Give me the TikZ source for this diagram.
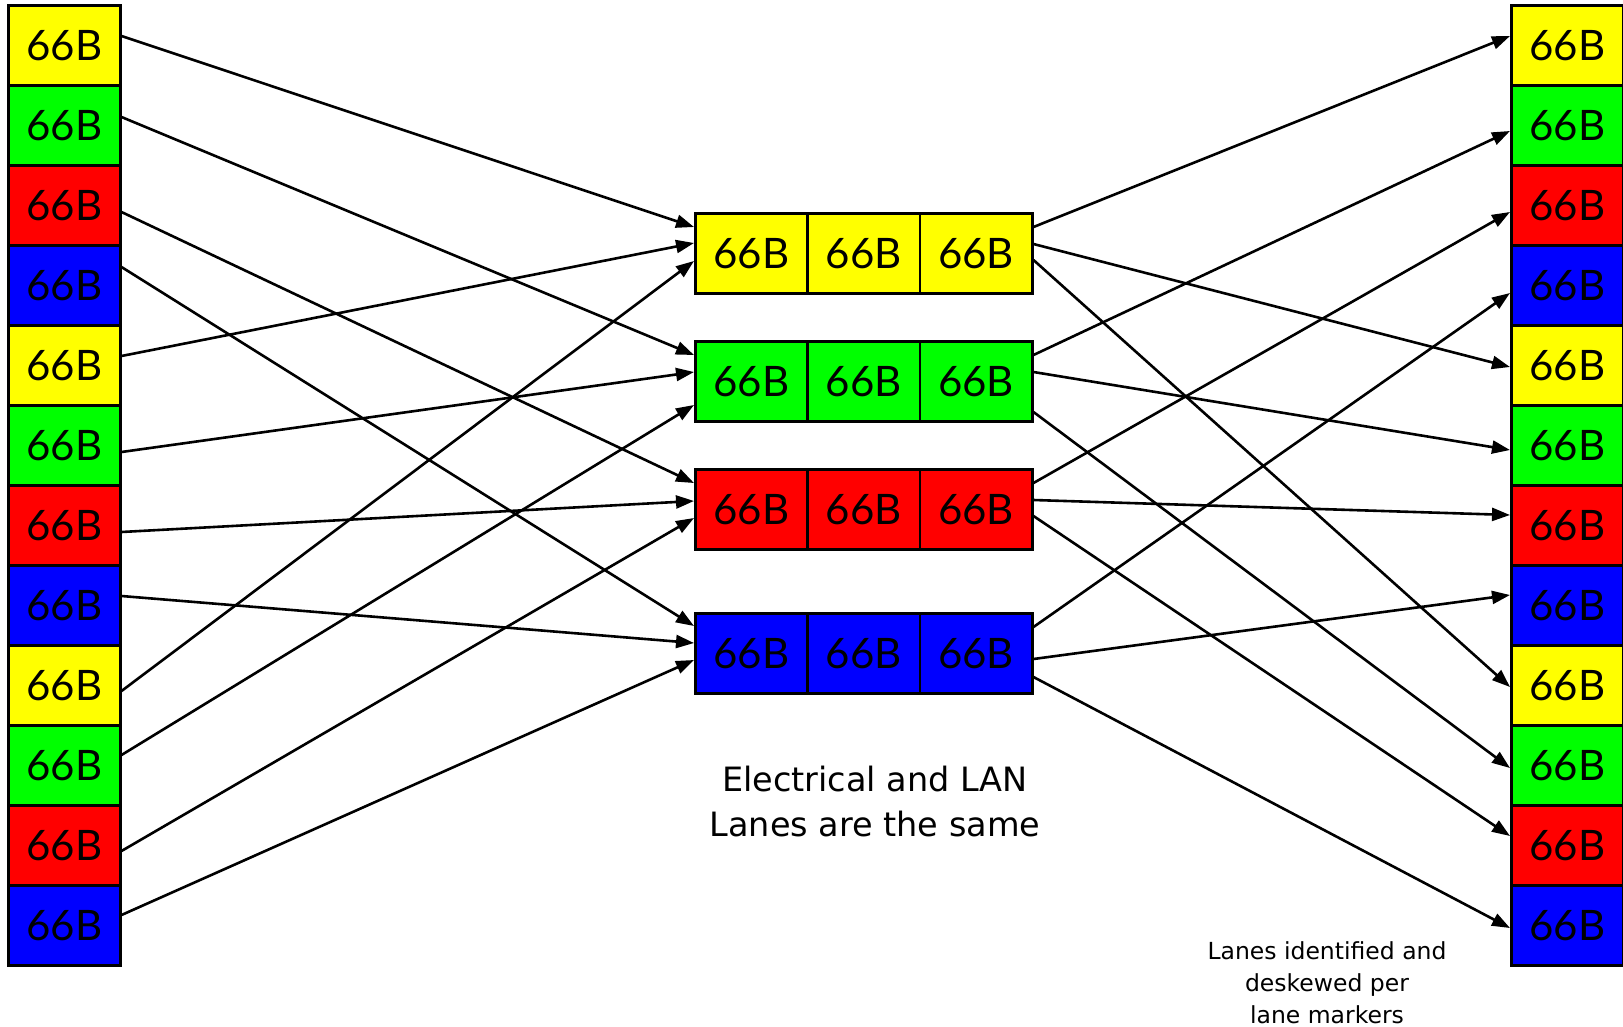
\documentclass[tikz,border=0pt]{standalone}
\usepackage{fontspec}
\setmainfont{DejaVu Sans}
\newfontfamily\latofont{Lato}
\usetikzlibrary{arrows.meta}
\definecolor{cY}{RGB}{255,255,0}
\definecolor{cG}{RGB}{0,255,0}
\definecolor{cR}{RGB}{255,0,0}
\definecolor{cB}{RGB}{0,0,255}
\begin{document}
\begin{tikzpicture}[x=1pt,y=-1pt,
  cell/.style={draw=black, line width=2.5pt, minimum width=112pt, minimum height=80pt,
    inner sep=0pt, anchor=north west, font=\latofont\fontsize{42}{42}\selectfont},
  conn/.style={line width=2.6pt, -{Triangle[length=18pt,width=13pt]}},
  caption/.style={align=center, anchor=north, inner sep=0pt}
]
\useasboundingbox[fill=white] (0,0) rectangle (1623,1026);
% outer columns
\foreach \i/\c in {0/cY,1/cG,2/cR,3/cB,4/cY,5/cG,6/cR,7/cB,8/cY,9/cG,10/cR,11/cB} {
  \node[cell, fill=\c] (L\i) at (7,{4+80*\i}) {66B};
  \node[cell, fill=\c] (R\i) at (1510,{4+80*\i}) {66B};
}
% middle groups
\foreach \n/\c/\t in {Y/cY/212, G/cG/340, R/cR/468, B/cB/612} {
  \foreach \k in {1,2,3} {
    \node[cell, fill=\c, minimum width=112.33pt] (M\n\k) at ({694+112.33*(\k-1)},\t) {66B};
  }
}
% left -> middle
\draw[conn] ([yshift=-32pt]L0.north east)  -- ([yshift=-15pt]MY1.north west);
\draw[conn] ([yshift=-33pt]L1.north east)  -- ([yshift=-15pt]MG1.north west);
\draw[conn] ([yshift=-48pt]L2.north east)  -- ([yshift=-15pt]MR1.north west);
\draw[conn] ([yshift=-23pt]L3.north east)  -- ([yshift=-14pt]MB1.north west);
\draw[conn] ([yshift=-32pt]L4.north east)  -- ([yshift=-31pt]MY1.north west);
\draw[conn] ([yshift=-48pt]L5.north east)  -- ([yshift=-32pt]MG1.north west);
\draw[conn] ([yshift=-48pt]L6.north east)  -- ([yshift=-33pt]MR1.north west);
\draw[conn] ([yshift=-32pt]L7.north east)  -- ([yshift=-31pt]MB1.north west);
\draw[conn] ([yshift=-47pt]L8.north east)  -- ([yshift=-49pt]MY1.north west);
\draw[conn] ([yshift=-31pt]L9.north east)  -- ([yshift=-65pt]MG1.north west);
\draw[conn] ([yshift=-47pt]L10.north east) -- ([yshift=-50pt]MR1.north west);
\draw[conn] ([yshift=-31pt]L11.north east) -- ([yshift=-48pt]MB1.north west);
% middle -> right
\draw[conn] ([yshift=-15pt]MY3.north east) -- ([yshift=-32pt]R0.north west);
\draw[conn] ([yshift=-32pt]MY3.north east) -- ([yshift=-43pt]R4.north west);
\draw[conn] ([yshift=-48pt]MY3.north east) -- ([yshift=-43pt]R8.north west);
\draw[conn] ([yshift=-15pt]MG3.north east) -- ([yshift=-47pt]R1.north west);
\draw[conn] ([yshift=-32pt]MG3.north east) -- ([yshift=-46pt]R5.north west);
\draw[conn] ([yshift=-72pt]MG3.north east) -- ([yshift=-44pt]R9.north west);
\draw[conn] ([yshift=-15pt]MR3.north east) -- ([yshift=-48pt]R2.north west);
\draw[conn] ([yshift=-32pt]MR3.north east) -- ([yshift=-31pt]R6.north west);
\draw[conn] ([yshift=-48pt]MR3.north east) -- ([yshift=-32pt]R10.north west);
\draw[conn] ([yshift=-15pt]MB3.north east) -- ([yshift=-49pt]R3.north west);
\draw[conn] ([yshift=-47pt]MB3.north east) -- ([yshift=-31pt]R7.north west);
\draw[conn] ([yshift=-65pt]MB3.north east) -- ([yshift=-44pt]R11.north west);
% captions
\node[caption, font=\fontsize{33.5}{45}\selectfont] (cap1) at (875,766) {Electrical and LAN\\Lanes are the same};
\node[caption, font=\fontsize{23.5}{32}\selectfont] (cap2) at (1327,941) {Lanes identified and\\deskewed per\\lane markers};
\end{tikzpicture}
\end{document}
